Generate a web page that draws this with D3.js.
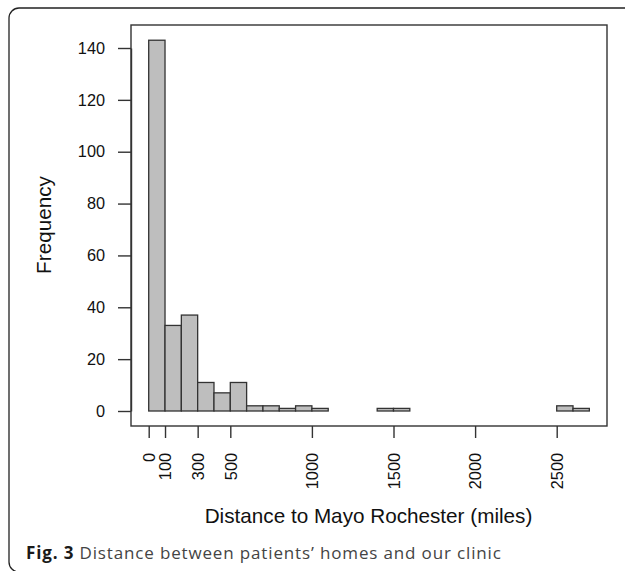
<!DOCTYPE html>
<html>
<head>
<meta charset="utf-8">
<script src="https://cdn.jsdelivr.net/npm/d3@7"></script>
<style>
  body { margin: 0; background: #fff; }
</style>
</head>
<body>
<script>
// histogram of distances, bins of 100 miles
const binStart = [0, 100, 200, 300, 400, 500, 600, 700, 800, 900, 1000, 1100, 1200, 1300,
  1400, 1500, 1600, 1700, 1800, 1900, 2000, 2100, 2200, 2300, 2400, 2500, 2600];
const counts = [143, 33, 37, 11, 7, 11, 2, 2, 1, 2, 1, 0, 0, 0,
  1, 1, 0, 0, 0, 0, 0, 0, 0, 0, 0, 2, 1];
const binWidth = 100;
const xTicks = [0, 100, 300, 500, 1000, 1500, 2000, 2500];
const yTicks = [0, 20, 40, 60, 80, 100, 120, 140];

const W = 625, H = 571;
const box = {left: 131, top: 25, right: 607, bottom: 426};
const ink = '#333';

const svg = d3.select('body').append('svg')
  .attr('width', W)
  .attr('height', H)
  .attr('viewBox', [0, 0, W, H])
  .style('font-family', '"Liberation Sans", Arial, sans-serif');

// outer figure frame
svg.append('rect')
  .attr('x', 9).attr('y', 8)
  .attr('width', 640).attr('height', 564)
  .attr('rx', 10)
  .attr('fill', 'none')
  .attr('stroke', '#222')
  .attr('stroke-width', 1.3);

const x = d3.scaleLinear().domain([0, 2500]).range([148.7, 556.7]);
const y = d3.scaleLinear().domain([0, 140]).range([411, 48]);

// bars
svg.append('g')
  .selectAll('rect')
  .data(binStart)
  .join('rect')
    .attr('x', (d) => x(d))
    .attr('width', (d) => x(d + binWidth) - x(d))
    .attr('y', (d, i) => y(counts[i]))
    .attr('height', (d, i) => y(0) - y(counts[i]))
    .attr('fill', '#bebebe')
    .attr('stroke', ink)
    .attr('stroke-width', 1.3);

// plot box
svg.append('rect')
  .attr('x', box.left).attr('y', box.top)
  .attr('width', box.right - box.left)
  .attr('height', box.bottom - box.top)
  .attr('fill', 'none')
  .attr('stroke', ink)
  .attr('stroke-width', 1.4);

// y axis
const yAxis = svg.append('g')
  .attr('transform', `translate(${box.left},0)`)
  .call(d3.axisLeft(y).tickValues(yTicks).tickFormat(d3.format('d'))
    .tickSize(13).tickSizeOuter(0).tickPadding(13));
yAxis.select('.domain').attr('stroke', ink).attr('stroke-width', 1.4);
yAxis.selectAll('.tick line').attr('stroke', ink).attr('stroke-width', 1.4);
yAxis.selectAll('.tick text')
  .attr('fill', '#111')
  .style('font-size', '16.3px')
  .style('font-family', '"Liberation Sans", Arial, sans-serif');

// x axis
const xAxis = svg.append('g')
  .attr('transform', `translate(0,${box.bottom})`)
  .call(d3.axisBottom(x).tickValues(xTicks).tickFormat(d3.format('d'))
    .tickSize(12).tickSizeOuter(0));
xAxis.select('.domain').remove();
xAxis.selectAll('.tick line').attr('stroke', ink).attr('stroke-width', 1.4);
xAxis.selectAll('.tick text')
  .attr('transform', 'rotate(-90)')
  .attr('text-anchor', 'end')
  .attr('x', -27)
  .attr('y', 0)
  .attr('dy', '0.35em')
  .attr('fill', '#111')
  .style('font-size', '16.3px')
  .style('font-family', '"Liberation Sans", Arial, sans-serif');

// axis titles
svg.append('text')
  .attr('x', 368.5)
  .attr('y', 523)
  .attr('text-anchor', 'middle')
  .attr('fill', '#111')
  .style('font-size', '20.7px')
  .text('Distance to Mayo Rochester (miles)');

svg.append('text')
  .attr('transform', 'translate(50.5,225) rotate(-90)')
  .attr('text-anchor', 'middle')
  .attr('fill', '#111')
  .style('font-size', '20.7px')
  .text('Frequency');

// caption
const caption = svg.append('text')
  .attr('x', 26)
  .attr('y', 559.3)
  .attr('fill', '#444')
  .style('font-family', '"Open Sans", sans-serif')
  .style('font-size', '17px')
  .style('letter-spacing', '0.85px');
caption.append('tspan')
  .style('font-weight', 'bold')
  .attr('fill', '#1a1a1a')
  .text('Fig. 3');
caption.append('tspan')
  .text(' Distance between patients’ homes and our clinic');
</script>
</body>
</html>
